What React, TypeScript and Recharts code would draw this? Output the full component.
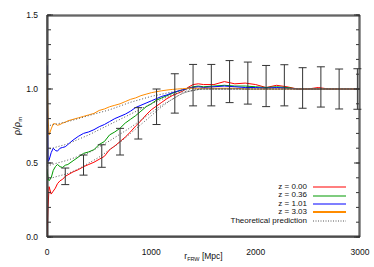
import React from 'react';
import { ComposedChart, Line, Scatter, ErrorBar, XAxis, YAxis } from 'recharts';

// radius grid (Mpc) shared by the simulated curves
const radius = [0, 10, 20, 40, 60, 80, 100, 125, 150, 175, 200, 250, 300, 350, 400, 450, 500, 550, 600, 650, 700, 750, 800, 850, 900, 950, 1000, 1050, 1100, 1150, 1200, 1250, 1300, 1350, 1400, 1450, 1500, 1600, 1700, 1800, 1900, 2000, 2100, 2200, 2300, 2400, 2500, 2600, 2700, 2800, 2900, 3000];

const z000 = [0.0, 0.2, 0.34, 0.29, 0.31, 0.33, 0.36, 0.38, 0.39, 0.41, 0.42, 0.44, 0.455, 0.475, 0.49, 0.505, 0.525, 0.545, 0.59, 0.615, 0.645, 0.675, 0.71, 0.75, 0.785, 0.825, 0.86, 0.885, 0.91, 0.935, 0.955, 0.97, 0.985, 1.01, 1.03, 1.035, 1.03, 1.03, 1.05, 1.035, 1.04, 1.03, 1.01, 1.025, 1.015, 1.0, 1.0, 1.01, 1.0, 1.0, 1.0, 1.0];
const z036 = [0.46, 0.4, 0.38, 0.4, 0.45, 0.475, 0.49, 0.475, 0.47, 0.485, 0.49, 0.515, 0.54, 0.565, 0.575, 0.59, 0.625, 0.645, 0.69, 0.71, 0.735, 0.77, 0.795, 0.82, 0.85, 0.88, 0.9, 0.925, 0.94, 0.955, 0.97, 0.983, 0.995, 1.005, 1.015, 1.02, 1.015, 1.02, 1.025, 1.02, 1.02, 1.015, 1.01, 1.015, 1.01, 1.0, 1.0, 1.0, 1.0, 1.0, 1.0, 1.0];
const z101 = [1.16, 0.51, 0.52, 0.57, 0.6, 0.585, 0.58, 0.6, 0.605, 0.61, 0.625, 0.655, 0.68, 0.7, 0.71, 0.725, 0.745, 0.76, 0.78, 0.8, 0.815, 0.83, 0.85, 0.875, 0.89, 0.905, 0.92, 0.935, 0.95, 0.96, 0.975, 0.985, 0.995, 1.005, 1.01, 1.015, 1.01, 1.015, 1.02, 1.015, 1.01, 1.01, 1.005, 1.01, 1.005, 1.0, 1.0, 1.0, 1.0, 1.0, 1.0, 1.0];
const z303 = [1.1, 0.8, 0.69, 0.73, 0.765, 0.765, 0.755, 0.76, 0.77, 0.775, 0.785, 0.795, 0.805, 0.815, 0.825, 0.835, 0.855, 0.865, 0.88, 0.89, 0.9, 0.915, 0.93, 0.94, 0.955, 0.965, 0.975, 0.982, 0.988, 0.993, 0.997, 1.0, 1.002, 1.005, 1.005, 1.005, 1.005, 1.005, 1.005, 1.005, 1.0, 1.0, 1.0, 1.0, 1.0, 1.0, 1.0, 1.0, 1.0, 1.0, 1.0, 1.0];

// theoretical predictions
const theoryRadius = [0, 100, 200, 300, 400, 500, 600, 700, 800, 900, 1000, 1100, 1200, 1300, 1400, 1500, 3000];
const theory000 = [0.39, 0.41, 0.43, 0.46, 0.5, 0.54, 0.59, 0.64, 0.7, 0.76, 0.82, 0.88, 0.93, 0.97, 0.99, 1.0, 1.0];
const theory036 = [0.48, 0.5, 0.52, 0.545, 0.57, 0.61, 0.65, 0.695, 0.74, 0.79, 0.84, 0.89, 0.93, 0.97, 0.99, 1.0, 1.0];
const theory101 = [0.59, 0.61, 0.63, 0.66, 0.69, 0.725, 0.76, 0.795, 0.83, 0.865, 0.9, 0.93, 0.96, 0.98, 0.99, 1.0, 1.0];
const theory303 = [0.75, 0.765, 0.78, 0.8, 0.82, 0.84, 0.86, 0.885, 0.91, 0.93, 0.95, 0.965, 0.98, 0.99, 1.0, 1.0, 1.0];

// error bars
const barRadius = [175, 350, 525, 700, 875, 1050, 1225, 1400, 1575, 1750, 1925, 2100, 2275, 2450, 2625, 2800, 2975];
const barCenter = [0.41, 0.486, 0.547, 0.644, 0.768, 0.88, 0.97, 1.026, 1.026, 1.05, 1.04, 1.02, 1.025, 1.007, 1.014, 1.0, 1.0];
const barError = [0.056, 0.068, 0.076, 0.09, 0.106, 0.12, 0.133, 0.14, 0.14, 0.142, 0.142, 0.139, 0.139, 0.137, 0.136, 0.135, 0.137];

const xMajor = [0, 1000, 2000, 3000];
const xMinor = [0, 100, 200, 300, 400, 500, 600, 700, 800, 900, 1000, 1100, 1200, 1300, 1400, 1500, 1600, 1700, 1800, 1900, 2000, 2100, 2200, 2300, 2400, 2500, 2600, 2700, 2800, 2900, 3000];
const yMajor = [0, 0.5, 1.0, 1.5];
const yMinor = [0, 0.1, 0.2, 0.3, 0.4, 0.5, 0.6, 0.7, 0.8, 0.9, 1.0, 1.1, 1.2, 1.3, 1.4, 1.5];

const seriesNames = ['z = 0.00', 'z = 0.36', 'z = 1.01', 'z = 3.03'];
const seriesColors = ['#ff0000', '#009a00', '#0000ff', '#ff8c00'];
const seriesValues = [z000, z036, z101, z303];
const theoryValues = [theory000, theory036, theory101, theory303];

const toPoints = (rs: number[], vs: number[]) => rs.map((r, i) => ({ r, v: vs[i] }));
const simData = seriesValues.map(vs => toPoints(radius, vs));
const theoryData = theoryValues.map(vs => toPoints(theoryRadius, vs));
const barData = barRadius.map((r, i) => ({ r, v: barCenter[i], e: barError[i] }));

const FONT = '"Liberation Sans", Arial, sans-serif';
const AXIS = '#333';
const tickStyle = { fontSize: 8.5, fill: '#111', fontFamily: FONT };

const YLabel = ({ viewBox }: any) => {
  const cx = 20;
  const cy = viewBox.y + viewBox.height / 2;
  return (
    <text x={cx} y={cy} transform={`rotate(-90 ${cx} ${cy})`} textAnchor="middle" fontSize={9.5} fontFamily={FONT} fill="#111">
      ρ/ρ<tspan dy={2} fontSize={6}>m</tspan>
    </text>
  );
};

const XLabel = ({ viewBox }: any) => {
  const cx = viewBox.x + viewBox.width / 2;
  return (
    <text x={cx} y={viewBox.y + 22} textAnchor="middle" fontSize={8.5} fontFamily={FONT} fill="#111">
      r<tspan dy={2} fontSize={5.5}>FRW</tspan><tspan dy={-2}> [Mpc]</tspan>
    </text>
  );
};

const NoDot = () => <g />;
const NoTick = () => <g />;

// tick-only axes, mirrored so the ticks point into the plot
const tickAxis = {
  allowDataOverflow: true, interval: 0 as const, tick: <NoTick />, stroke: AXIS, mirror: true,
  type: 'number' as const, tickLine: { stroke: AXIS, strokeWidth: 1 },
};

const LegendRow = ({ label, children }: any) => (
  <div style={{ display: 'flex', justifyContent: 'flex-end', alignItems: 'center', height: 8.4, lineHeight: '8.4px', whiteSpace: 'pre' }}>
    <span>{label}</span>
    <svg width={39} height={8} style={{ display: 'block' }}>{children}</svg>
  </div>
);

const App = () => {
  return (
    <div style={{ position: 'absolute', left: 0, top: 0, width: 374, height: 267, background: '#fff' }}>
      <ComposedChart width={374} height={267} margin={{ top: 15, right: 14, bottom: 0, left: 0 }}>
        {/* labelled axes */}
        <XAxis xAxisId={0} dataKey="r" type="number" domain={[0, 3000]} allowDataOverflow ticks={xMajor} interval={0}
          orientation="bottom" height={30} tickLine={false} tickMargin={6} stroke={AXIS} tick={tickStyle}
          label={<XLabel />} />
        <YAxis yAxisId={0} dataKey="v" type="number" domain={[0, 1.5]} allowDataOverflow ticks={yMajor} interval={0}
          orientation="left" width={47} tickLine={false} tickMargin={3} stroke={AXIS} tick={tickStyle}
          tickFormatter={(v: number) => v.toFixed(1)} label={<YLabel />} />
        {/* inward ticks on all four sides */}
        <XAxis xAxisId="bM" {...tickAxis} domain={[0, 3000]} ticks={xMajor} orientation="bottom" height={1} tickSize={6} />
        <XAxis xAxisId="bm" {...tickAxis} domain={[0, 3000]} ticks={xMinor} orientation="bottom" height={1} tickSize={3} />
        <XAxis xAxisId="tM" {...tickAxis} domain={[0, 3000]} ticks={xMajor} orientation="top" height={1} tickSize={6} />
        <XAxis xAxisId="tm" {...tickAxis} domain={[0, 3000]} ticks={xMinor} orientation="top" height={1} tickSize={3} />
        <YAxis yAxisId="lM" {...tickAxis} domain={[0, 1.5]} ticks={yMajor} orientation="left" width={1} tickSize={6} />
        <YAxis yAxisId="lm" {...tickAxis} domain={[0, 1.5]} ticks={yMinor} orientation="left" width={1} tickSize={3} />
        <YAxis yAxisId="rM" {...tickAxis} domain={[0, 1.5]} ticks={yMajor} orientation="right" width={1} tickSize={6} />
        <YAxis yAxisId="rm" {...tickAxis} domain={[0, 1.5]} ticks={yMinor} orientation="right" width={1} tickSize={3} />

        {simData.map((d, i) => (
          <Line key={seriesNames[i]} data={d} dataKey="v" type="linear" stroke={seriesColors[i]} strokeWidth={1}
            dot={false} activeDot={false} isAnimationActive={false} />
        ))}
        {theoryData.map((d, i) => (
          <Line key={'th' + i} data={d} dataKey="v" type="monotone" stroke="#555" strokeWidth={1} strokeDasharray="1 2"
            dot={false} activeDot={false} isAnimationActive={false} />
        ))}
        <Scatter data={barData} dataKey="v" shape={<NoDot />} isAnimationActive={false}>
          <ErrorBar dataKey="e" direction="y" width={4} stroke="#333" strokeWidth={1} isAnimationActive={false} />
        </Scatter>
      </ComposedChart>

      <div style={{ position: 'absolute', right: 28, top: 183, fontFamily: FONT, fontSize: 8, color: '#111' }}>
        {seriesNames.map((name, i) => (
          <LegendRow key={name} label={name}>
            <line x1={6} x2={39} y1={4} y2={4} stroke={seriesColors[i]} strokeWidth={i === 3 ? 2 : 1.2} />
          </LegendRow>
        ))}
        <LegendRow label="Theoretical prediction">
          <line x1={6} x2={39} y1={4} y2={4} stroke="#555" strokeWidth={1} strokeDasharray="1 1.5" />
        </LegendRow>
      </div>
    </div>
  );
};

export default App;
